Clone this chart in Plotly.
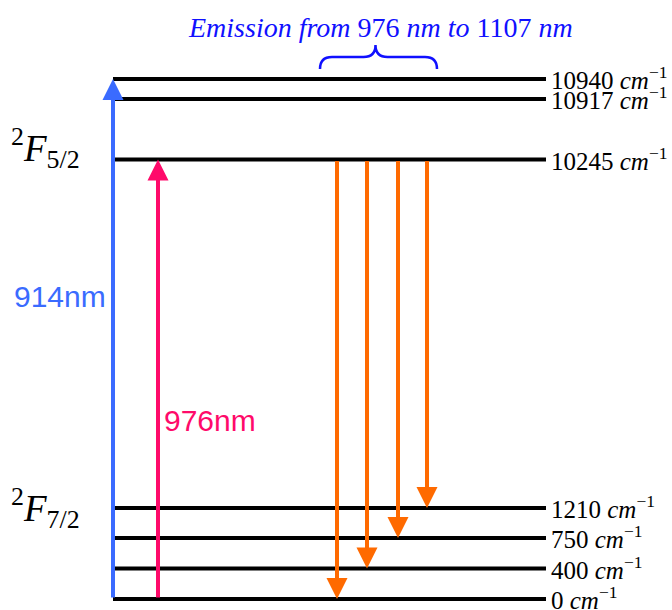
import plotly.graph_objects as go

# ---- Yb3+ Stark levels (cm^-1) ----
lower_levels = [0, 400, 750, 1210]          # 2F7/2 manifold
upper_levels = [10245, 10917, 10940]        # 2F5/2 manifold
manifold_labels = ["<sup>2</sup><i>F</i><sub>7/2</sub>",
                   "<sup>2</sup><i>F</i><sub>5/2</sub>"]

# pump transitions: (label, from level, to level)
pump_labels = ["914nm", "976nm"]
pump_from = [0, 0]
pump_to = [10940, 10245]

# emission transitions from the lowest 2F5/2 level
emission_from = 10245
emission_to = [0, 400, 750, 1210]
emission_title = "<i>Emission from</i> 976 <i>nm to</i> 1107 <i>nm</i>"

# ---- schematic layout (drawing is not to energy scale) ----
W, H = 672, 610
level_row = {0: 599, 400: 568.5, 750: 538, 1210: 508,
             10245: 159.5, 10917: 99, 10940: 79}
line_x0, line_x1 = 113, 546
pump_x = [113, 158]
pump_label_pos = [(60, 296), (210, 420)]
emission_x = [337, 367, 398, 427]
manifold_label_pos = [(45, 508), (45, 148)]

BLACK = "#000000"
PUMP_COLORS = ["#3a6bff", "#ff0a6a"]
EMIT_COLOR = "#ff6a00"
TITLE_BLUE = "#1010ff"
SERIF = "Liberation Serif, Times New Roman, serif"
SANS = "Liberation Sans, Arial, Helvetica, sans-serif"

fig = go.Figure()

# energy levels
for e in lower_levels + upper_levels:
    y = level_row[e]
    fig.add_trace(go.Scatter(x=[line_x0, line_x1], y=[y, y], mode="lines",
                             line=dict(color=BLACK, width=4),
                             hoverinfo="skip", showlegend=False))

annotations = []

# level labels on the right
for e in lower_levels + upper_levels:
    annotations.append(dict(
        x=line_x1 + 3, y=level_row[e] - 1, xref="x", yref="y",
        text=f"{e} <i>cm</i><sup>\u22121</sup>", showarrow=False,
        xanchor="left", yanchor="middle",
        font=dict(family=SERIF, size=25, color=BLACK)))

# manifold labels on the left
for lab, (lx, ly) in zip(manifold_labels, manifold_label_pos):
    annotations.append(dict(
        x=lx, y=ly, xref="x", yref="y", text=lab, showarrow=False,
        xanchor="center", yanchor="middle",
        font=dict(family=SERIF, size=37, color=BLACK)))

ARROW_W = 4
ARROW_SIZE = 1.05


def arrow(x, y_from, y_to, color):
    return dict(x=x, y=y_to, ax=x, ay=y_from, xref="x", yref="y",
                axref="x", ayref="y", text="", showarrow=True,
                arrowhead=2, arrowsize=ARROW_SIZE, arrowwidth=ARROW_W,
                arrowcolor=color, standoff=0)


# pump arrows with wavelength labels
for x, e0, e1, lab, col, (tx, ty) in zip(pump_x, pump_from, pump_to,
                                         pump_labels, PUMP_COLORS,
                                         pump_label_pos):
    annotations.append(arrow(x, level_row[e0], level_row[e1], col))
    annotations.append(dict(
        x=tx, y=ty, xref="x", yref="y", text=lab, showarrow=False,
        xanchor="center", yanchor="middle",
        font=dict(family=SANS, size=30, color=col)))

# emission arrows
for x, e1 in zip(emission_x, emission_to):
    annotations.append(arrow(x, level_row[emission_from], level_row[e1],
                             EMIT_COLOR))

# brace over the emission arrows and its caption
bl, br = min(emission_x) - 17, max(emission_x) + 10
bc = (bl + br) / 2 - 3
y_top, y_mid, y_end = 45, 57, 69
r = 12
brace = (f"M {bl},{y_end} Q {bl},{y_mid} {bl + r},{y_mid} "
         f"L {bc - r},{y_mid} Q {bc},{y_mid} {bc},{y_top} "
         f"Q {bc},{y_mid} {bc + r},{y_mid} "
         f"L {br - r},{y_mid} Q {br},{y_mid} {br},{y_end}")
fig.add_shape(type="path", path=brace, xref="x", yref="y",
              line=dict(color=TITLE_BLUE, width=2.5))

annotations.append(dict(
    x=380, y=27, xref="x", yref="y", text=emission_title, showarrow=False,
    xanchor="center", yanchor="middle",
    font=dict(family=SERIF, size=28, color=TITLE_BLUE)))

fig.update_layout(
    width=W, height=H, margin=dict(l=0, r=0, t=0, b=0),
    paper_bgcolor="white", plot_bgcolor="white",
    xaxis=dict(range=[0, W], visible=False, fixedrange=True),
    yaxis=dict(range=[H, 0], visible=False, fixedrange=True),
    annotations=annotations, showlegend=False)

fig.write_html("out.html")
